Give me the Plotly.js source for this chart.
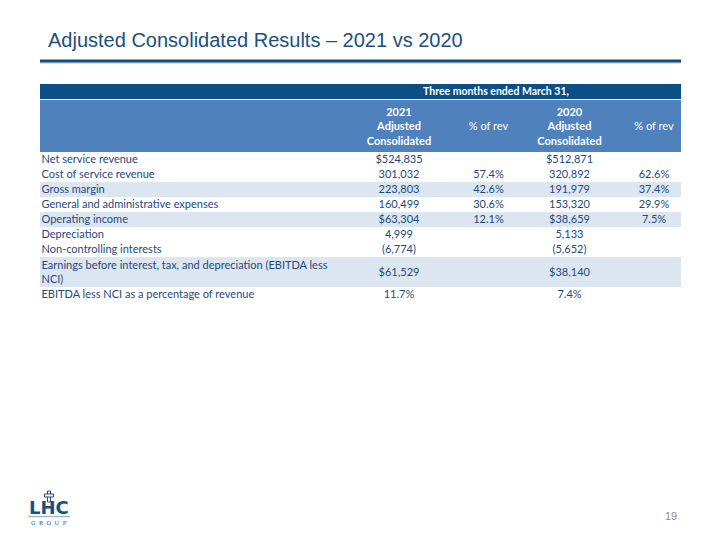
<!DOCTYPE html>
<html>
<head>
<meta charset="utf-8">
<script src="https://cdn.plot.ly/plotly-3.0.1.min.js"></script>
<style>html,body{margin:0;padding:0;background:#fff;}#chart{width:720px;height:540px;}</style>
</head>
<body>
<div id="chart"></div>
<script>
// ---- data ----
const spanHeader = "Three months ended March 31,";
const columnHeaders = ["", "2021<br>Adjusted<br>Consolidated", "% of rev", "2020<br>Adjusted<br>Consolidated", "% of rev"];
const rowLabels = [
  "Net service revenue",
  "Cost of service revenue",
  "Gross margin",
  "General and administrative expenses",
  "Operating income",
  "Depreciation",
  "Non-controlling interests",
  "Earnings before interest, tax, and depreciation (EBITDA less<br>NCI)",
  "EBITDA less NCI as a percentage of revenue"
];
const adjusted2021 = ["$524,835", "301,032", "223,803", "160,499", "$63,304", "4,999", "(6,774)", "$61,529", "11.7%"];
const pctRev2021   = ["", "57.4%", "42.6%", "30.6%", "12.1%", "", "", "", ""];
const adjusted2020 = ["$512,871", "320,892", "191,979", "153,320", "$38,659", "5,133", "(5,652)", "$38,140", "7.4%"];
const pctRev2020   = ["", "62.6%", "37.4%", "29.9%", "7.5%", "", "", "", ""];
const highlighted  = [false, false, true, false, true, false, false, true, false];

// ---- layout constants (page pixel units) ----
const W = 720, H = 540;
const tableLeft = 40, tableRight = 681;
const spanTop = 84, spanBottom = 99;
const headTop = 100, headBottom = 152;
const lineH = 15;
const labelX = 41.5;
const colX = [null, 399, 488.5, 569.5, 654];
const spanX = 496;
const textNudge = 1;      // baseline nudge for body text
const headNudge = 1.5;    // baseline nudge for header text

const darkBlue = "#0b4f86";
const midBlue = "#4f81bd";
const stripe = "#dce6f1";
const textBlue = "#1f497d";
const bodyFont = "Lato, 'Open Sans', sans-serif";

// row geometry derived from the number of text lines in each row
const rowCenters = [], rowHeights = [];
let yCursor = headBottom;
rowLabels.forEach(l => {
  const h = l.split("<br>").length * lineH;
  rowCenters.push(yCursor + h / 2);
  rowHeights.push(h);
  yCursor += h;
});
const textY = rowCenters.map(c => c + textNudge);

// bands: header rows + striped rows
const bandY = [(spanTop + spanBottom) / 2, (headTop + headBottom) / 2];
const bandW = [spanBottom - spanTop, headBottom - headTop];
const bandC = [darkBlue, midBlue];
highlighted.forEach((h, i) => {
  if (h) { bandY.push(rowCenters[i]); bandW.push(rowHeights[i]); bandC.push(stripe); }
});

const traces = [];
traces.push({
  type: "bar", orientation: "h",
  y: bandY, width: bandW,
  x: bandY.map(() => tableRight - tableLeft), base: tableLeft,
  marker: {color: bandC, line: {width: 0}},
  hoverinfo: "skip", showlegend: false
});

// row labels
traces.push({
  type: "scatter", mode: "text",
  x: rowLabels.map(() => labelX), y: textY,
  text: rowLabels, textposition: "middle right",
  textfont: {family: bodyFont, size: 11, color: textBlue},
  hoverinfo: "skip", showlegend: false
});

// value columns
[adjusted2021, pctRev2021, adjusted2020, pctRev2020].forEach((col, k) => {
  traces.push({
    type: "scatter", mode: "text",
    x: col.map(() => colX[k + 1]), y: textY,
    text: col, textposition: "middle center",
    textfont: {family: bodyFont, size: 11, color: textBlue},
    hoverinfo: "skip", showlegend: false
  });
});

// column headers
const headIdx = [1, 2, 3, 4];
traces.push({
  type: "scatter", mode: "text",
  x: headIdx.map(i => colX[i]), y: headIdx.map(() => (headTop + headBottom) / 2 + headNudge),
  text: headIdx.map(i => (i === 1 || i === 3) ? "<b>" + columnHeaders[i] + "</b>" : columnHeaders[i]),
  textposition: "middle center",
  textfont: {family: bodyFont, size: 11, color: "#ffffff"},
  hoverinfo: "skip", showlegend: false
});
// spanning header
traces.push({
  type: "scatter", mode: "text",
  x: [spanX], y: [(spanTop + spanBottom) / 2 + 0.5],
  text: ["<b>" + spanHeader + "</b>"], textposition: "middle center",
  textfont: {family: bodyFont, size: 10.5, color: "#ffffff"},
  hoverinfo: "skip", showlegend: false
});

const layout = {
  width: W, height: H,
  margin: {l: 0, r: 0, t: 0, b: 0},
  paper_bgcolor: "#ffffff", plot_bgcolor: "#ffffff",
  showlegend: false,
  xaxis: {range: [0, W], visible: false, fixedrange: true},
  yaxis: {range: [H, 0], visible: false, fixedrange: true},
  title: {
    text: "Adjusted Consolidated Results – 2021 vs 2020",
    x: 48 / W, xanchor: "left", xref: "paper",
    y: 1 - 40 / H, yanchor: "middle", yref: "paper",
    font: {family: "'Liberation Sans', Arial, sans-serif", size: 20, color: "#1b4f80"}
  },
  shapes: [
    {type: "line", xref: "x", yref: "y", x0: tableLeft, x1: tableRight, y0: 63, y1: 63,
     line: {color: "rgba(0,0,0,0.12)", width: 2}},
    {type: "line", xref: "x", yref: "y", x0: tableLeft, x1: tableRight, y0: 61, y1: 61,
     line: {color: "#0e4f84", width: 3}},
    // logo underline and cross
    {type: "line", xref: "x", yref: "y", x0: 28, x1: 70, y0: 516.5, y1: 516.5,
     line: {color: "#9bb7d4", width: 1.5}},
    {type: "rect", xref: "x", yref: "y", x0: 47.5, x1: 50.5, y0: 491, y1: 502,
     fillcolor: "#ffffff", line: {color: "#1b4f80", width: 1}},
    {type: "rect", xref: "x", yref: "y", x0: 44.5, x1: 53.5, y0: 494, y1: 497,
     fillcolor: "#ffffff", line: {color: "#1b4f80", width: 1}}
  ],
  annotations: [
    {text: "<b>LHC</b>", xref: "x", yref: "y", x: 49, y: 507.5,
     xanchor: "center", yanchor: "middle", showarrow: false, borderpad: 0,
     font: {family: "'DejaVu Sans', sans-serif", size: 18, color: "#1b4f80"}},
    {text: "G  R  O  U  P", xref: "x", yref: "y", x: 49, y: 522.5,
     xanchor: "center", yanchor: "middle", showarrow: false, borderpad: 0,
     font: {family: "'DejaVu Serif', serif", size: 5.5, color: "#1b4f80"}},
    {text: "19", xref: "x", yref: "y", x: 671, y: 515.5,
     xanchor: "center", yanchor: "middle", showarrow: false,
     font: {family: "'Liberation Sans', Arial, sans-serif", size: 11, color: "#8c8c8c"}}
  ]
};

Plotly.newPlot("chart", traces, layout, {staticPlot: true, displayModeBar: false});
</script>
</body>
</html>
